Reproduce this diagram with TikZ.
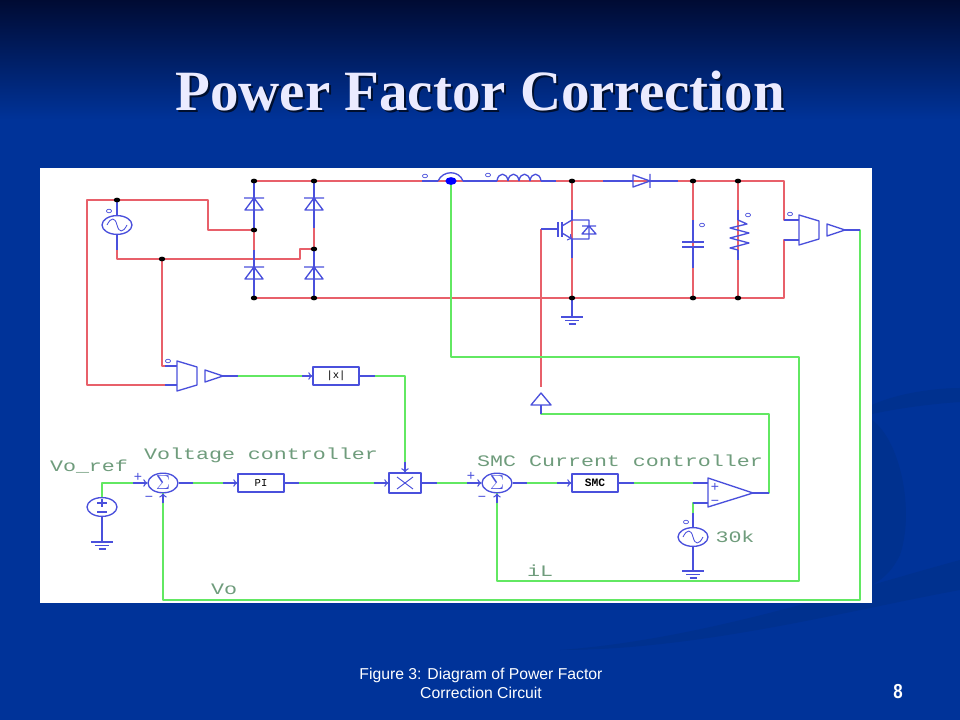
\documentclass[tikz,border=0pt]{standalone}
\usepackage{fontspec}
\setmainfont{Liberation Sans}
\newfontfamily\titlefont{Liberation Serif}
\newfontfamily\labelfont{Liberation Mono}
\usetikzlibrary{shapes.geometric}
\definecolor{slideblue}{HTML}{003399}
\definecolor{slidedark}{HTML}{000B33}
\definecolor{swoosh}{HTML}{00318F}
\definecolor{wirered}{HTML}{E8606A}
\definecolor{wiregreen}{HTML}{62E862}
\definecolor{partblue}{HTML}{4A50DC}
\definecolor{labelgreen}{HTML}{6F9C7C}
\tikzset{
  redw/.style={wirered,line width=1.05pt},
  greenw/.style={wiregreen,line width=1.05pt},
  bluew/.style={partblue,line width=0.95pt},
  junction/.style={ellipse,fill=black,inner sep=0pt,minimum width=4.6pt,minimum height=3.4pt},
  pin/.style={ellipse,draw=partblue,line width=0.5pt,inner sep=0pt,minimum width=3.6pt,minimum height=2.6pt},
  srcnode/.style={ellipse,draw=partblue,line width=0.95pt,inner sep=0pt,minimum width=0.75cm,minimum height=0.47cm},
  sumnode/.style={srcnode,font=\Large,text=partblue},
  blocknode/.style={draw=partblue,line width=1pt,fill=white,inner sep=0pt,minimum width=1.15cm,minimum height=0.45cm,font=\labelfont\fontsize{7.5}{8}\selectfont},
  circuitlabel/.style={text=labelgreen,inner sep=0pt,xscale=1.35,font=\labelfont\fontsize{11.4}{13}\selectfont},
  signlabel/.style={text=partblue,inner sep=0pt,font=\normalsize},
  gndsym/.pic={
    \draw[bluew] (-11,0) -- (11,0) (-7,3.5) -- (7,3.5) (-3.5,7) -- (3.5,7);
  },
  diodeup/.pic={
    \draw[bluew] (-10,-6) -- (10,-6) (0,-6) -- (-9,6) -- (9,6) -- cycle;
  },
  sinewave/.pic={
    \draw[bluew,line width=0.6pt] (-10,0) .. controls (-6,-8) and (-2,-8) .. (0,0) .. controls (2,8) and (6,8) .. (10,0);
  },
  diffamp/.pic={
    \draw[bluew] (0,-15) -- (20,-9) -- (20,9) -- (0,15) -- cycle;
    \draw[bluew] (28,-6) -- (46,0) -- (28,6) -- cycle;
  },
}
\begin{document}
\begin{tikzpicture}[x=0.025cm,y=-0.025cm,line join=round,>=to]

    % Slide background
    \fill[slideblue] (0,0) rectangle (960,720);
    \shade[top color=slidedark,bottom color=slideblue] (0,0) rectangle (960,120);
    \fill[swoosh] (872,405) .. controls (900,392) and (940,388) .. (960,388) -- (960,402) .. controls (930,404) and (900,408) .. (872,414) -- cycle;
    \fill[swoosh] (872,420) .. controls (900,440) and (915,510) .. (900,555) .. controls (890,575) and (880,580) .. (872,585) -- cycle;
    \fill[swoosh] (560,650) .. controls (700,640) and (850,590) .. (960,560) -- (960,590) .. controls (850,610) and (700,650) .. (560,650) -- cycle;
    \useasboundingbox (0,0) rectangle (960,720);

    % Title and caption
    \node (titleshadow) at (482,93) {\titlefont\bfseries\fontsize{40.5}{44}\selectfont\color{black!70!slideblue}Power Factor Correction};
    \node (title) at (480,91) {\titlefont\bfseries\fontsize{40.5}{44}\selectfont\color{blue!8!white}Power Factor Correction};
    \node (caption) [text=white,align=center,font=\fontsize{11.2}{13.5}\selectfont] at (481,683) {Figure 3: Diagram of Power Factor\\Correction Circuit};
    \node (pagenum) [text=white,yscale=1.2,font=\bfseries\fontsize{12}{14}\selectfont] at (898,692) {8};

    % Schematic panel
    \fill[white] (40,168) rectangle (872,603);

    % Rail and junction points
    \coordinate (railL) at (254,181);
    \coordinate (railR) at (784,181);
    \coordinate (baseL) at (254,298);
    \coordinate (baseR) at (784,298);
    \coordinate (srcT) at (117,200);
    \coordinate (srcB) at (117,259);
    \coordinate (midA) at (254,230);
    \coordinate (midB) at (314,249);
    \coordinate (tapA) at (162,259);
    \coordinate (hallC) at (451,181);

    % Blocks and sources
    \node (acsrc) [srcnode] at (117,225) {};
    \node (vref) [srcnode] at (102,507) {};
    \node (carrier) [srcnode] at (693,537) {};
    \node (sumv) [sumnode] at (163,483) {$\Sigma$};
    \node (sumi) [sumnode] at (497,483) {$\Sigma$};
    \node (pibox) [blocknode] at (261,483) {PI};
    \node (absbox) [blocknode] at (336,376) {|x|};
    \node (smcbox) [blocknode,font=\labelfont\bfseries\fontsize{8}{9}\selectfont] at (595,483) {SMC};
    \node (mulbox) [draw=partblue,line width=1pt,inner sep=0pt,minimum width=0.8cm,minimum height=0.5cm] at (405,483) {};

    % Power wiring
    \draw[redw] (railL) -- (railR) -- (784,220) -- (799,220);
    \draw[redw] (baseL) -- (baseR) -- (784,240) -- (799,240);
    \draw[redw] (railL) -- (baseL);
    \draw[redw] (314,181) -- (314,298);
    \draw[redw] (572,181) -- (572,298);
    \draw[redw] (693,181) -- (693,298);
    \draw[redw] (738,181) -- (738,298);
    \draw[redw] (srcT) -- (208,200) -- (208,230) -- (midA);
    \draw[redw] (srcT) -- (87,200) -- (87,385) -- (177,385);
    \draw[redw] (acsrc.south) -- (srcB) -- (300,259) -- (300,249) -- (midB);
    \draw[redw] (tapA) -- (162,366) -- (177,366);
    \draw[redw] (541,229) -- (541,387);

    % Signal wiring
    \draw[greenw] (hallC) -- (451,357) -- (799,357) -- (799,581) -- (497,581) -- (sumi.south);
    \draw[greenw] (845,230) -- (860,230) -- (860,600) -- (163,600) -- (sumv.south);
    \draw[greenw] (223,376) -- (absbox.west);
    \draw[greenw] (absbox.east) -- (405,376) -- (mulbox.north);
    \draw[greenw] (vref.north) -- (102,483) -- (sumv.west);
    \draw[greenw] (sumv.east) -- (pibox.west);
    \draw[greenw] (pibox.east) -- (mulbox.west);
    \draw[greenw] (mulbox.east) -- (sumi.west);
    \draw[greenw] (sumi.east) -- (smcbox.west);
    \draw[greenw] (smcbox.east) -- (708,483);
    \draw[greenw] (753,493) -- (769,493) -- (769,414) -- (541,414) -- (541,405);
    \draw[greenw] (708,503) -- (693,503) -- (carrier.north);

    % Blue lead stubs on the wiring
    \draw[bluew] (254,181) -- (254,230) (254,250) -- (254,298);
    \draw[bluew] (314,181) -- (314,228) (314,249) -- (314,298);
    \draw[bluew] (422,181) -- (438,181) (463,181) -- (497,181) (541,181) -- (556,181);
    \draw[bluew] (603,181) -- (633,181) (650,181) -- (678,181);
    \draw[bluew] (572,210) -- (572,220) (572,239) -- (572,258) (572,298) -- (572,317);
    \draw[bluew] (693,220) -- (693,242) (693,247) -- (693,268);
    \draw[bluew] (738,210) -- (738,220) (738,250) -- (738,260);
    \draw[bluew] (784,220) -- (799,220) (784,240) -- (799,240);
    \draw[bluew] (541,229) -- (558,229);
    \draw[bluew] (117,200) -- (acsrc.north) (acsrc.south) -- (117,250);
    \draw[bluew] (165,366) -- (177,366) (165,385) -- (177,385);
    \draw[bluew] (223,376) -- (238,376) (360,376) -- (375,376);
    \draw[bluew] (845,230) -- (860,230);
    \draw[bluew] (541,405) -- (541,414);
    \draw[bluew] (753,493) -- (769,493);
    \draw[bluew] (vref.south) -- (102,542);
    \draw[bluew] (carrier.south) -- (693,571);
    \draw[bluew] (carrier.north) -- (693,513);
    \draw[bluew] (708,503) -- (693,503);
    \draw[bluew] (693,483) -- (708,483);
    \draw[bluew] (sumv.east) -- ++(14,0);
    \draw[bluew] (sumi.east) -- ++(14,0);
    \draw[bluew] (pibox.east) -- ++(14,0);
    \draw[bluew] (smcbox.east) -- ++(15,0);
    \draw[bluew] (mulbox.east) -- ++(15,0);

    % Input arrows
    \draw[bluew,->] (absbox.west) ++(-10,0) -- (absbox.west);
    \draw[bluew,->] (pibox.west) ++(-14,0) -- (pibox.west);
    \draw[bluew,->] (smcbox.west) ++(-14,0) -- (smcbox.west);
    \draw[bluew,->] (mulbox.west) ++(-14,0) -- (mulbox.west);
    \draw[bluew,->] (mulbox.north) ++(0,-10) -- (mulbox.north);
    \draw[bluew,->] (sumv.west) ++(-14,0) -- (sumv.west);
    \draw[bluew,->] (sumi.west) ++(-14,0) -- (sumi.west);
    \draw[bluew,->] (sumv.south) ++(0,10) -- (sumv.south);
    \draw[bluew,->] (sumi.south) ++(0,10) -- (sumi.south);

    % Bridge and boost stage
    \foreach \dx in {254,314} {
        \pic at (\dx,204) {diodeup};
        \pic at (\dx,273) {diodeup};
    }
    \draw[bluew] (438,181) .. controls (443,170) and (459,170) .. (463,181);
    \foreach \hx in {497,508,519,530}
        \draw[bluew] (\hx,181) .. controls (\hx+1,172) and (\hx+10,172) .. (\hx+11,181);
    \draw[bluew] (633,175) -- (650,181) -- (633,187) -- cycle (650,174) -- (650,188);
    \draw[bluew] (558,222) -- (558,237) (562,222) -- (562,237);
    \draw[bluew] (562,226) -- (572,220) -- (589,220) -- (589,239) -- (572,239);
    \draw[bluew,->] (562,233) -- (572,239);
    \draw[bluew] (582,226) -- (596,226) (589,226) -- (582,234) -- (596,234) -- cycle;
    \draw[bluew] (682,242) -- (704,242) (682,247) -- (704,247);
    \draw[bluew] (738,220) -- (747,224) -- (730,228) -- (749,233) -- (730,238) -- (749,243) -- (730,248) -- (738,250);

    % Amplifiers, comparator and multiplier
    \pic at (177,376) {diffamp};
    \pic at (799,230) {diffamp};
    \draw[bluew] (531,405) -- (551,405) -- (541,393) -- cycle;
    \draw[bluew] (708,478) -- (753,493) -- (708,507) -- cycle;
    \draw[bluew,line width=0.7pt] (mulbox.center) ++(-8,-6) -- ++(16,12) ++(0,-12) -- ++(-16,12);
    \pic at (117,225) {sinewave};
    \pic at (693,537) {sinewave};
    \draw[bluew] (vref.center) ++(0,-8) -- ++(0,8) ++(-5,-4) -- ++(10,0) ++(-10,9) -- ++(10,0);

    % Grounds
    \pic at (572,317) {gndsym};
    \pic at (102,542) {gndsym};
    \pic at (693,571) {gndsym};

    % Junction dots
    \node (dotA) [junction] at (254,181) {};
    \node (dotB) [junction] at (314,181) {};
    \node (dotC) [junction] at (572,181) {};
    \node (dotD) [junction] at (693,181) {};
    \node (dotE) [junction] at (738,181) {};
    \node (dotF) [junction] at (midA) {};
    \node (dotG) [junction] at (midB) {};
    \node (dotH) [junction] at (srcT) {};
    \node (dotI) [junction] at (tapA) {};
    \node (dotJ) [junction] at (254,298) {};
    \node (dotK) [junction] at (314,298) {};
    \node (dotL) [junction] at (572,298) {};
    \node (dotM) [junction] at (693,298) {};
    \node (dotN) [junction] at (738,298) {};
    \node (hall) [ellipse,fill=blue,inner sep=0pt,minimum width=8pt,minimum height=5.5pt] at (hallC) {};

    % Polarity pins
    \node (pinA) [pin] at (109,211) {};
    \node (pinB) [pin] at (168,361) {};
    \node (pinC) [pin] at (425,176) {};
    \node (pinD) [pin] at (488,175) {};
    \node (pinE) [pin] at (702,225) {};
    \node (pinF) [pin] at (748,215) {};
    \node (pinG) [pin] at (790,214) {};
    \node (pinH) [pin] at (686,522) {};

    % Signs
    \node (plusA) [signlabel] at (138,477) {+};
    \node (minusA) [signlabel] at (149,499) {−};
    \node (plusB) [signlabel] at (471,476) {+};
    \node (minusB) [signlabel] at (482,499) {−};
    \node (plusC) [signlabel] at (715,487) {+};
    \node (minusC) [signlabel] at (715,503) {−};

    % Labels
    \node (lblref) [circuitlabel] at (89,467) {Vo\_ref};
    \node (lblvc) [circuitlabel] at (261,455) {Voltage controller};
    \node (lblcc) [circuitlabel] at (620,461) {SMC Current controller};
    \node (lblvo) [circuitlabel] at (224,589) {Vo};
    \node (lblil) [circuitlabel] at (540,571) {iL};
    \node (lblfreq) [circuitlabel] at (735,537) {30k};

\end{tikzpicture}
\end{document}
